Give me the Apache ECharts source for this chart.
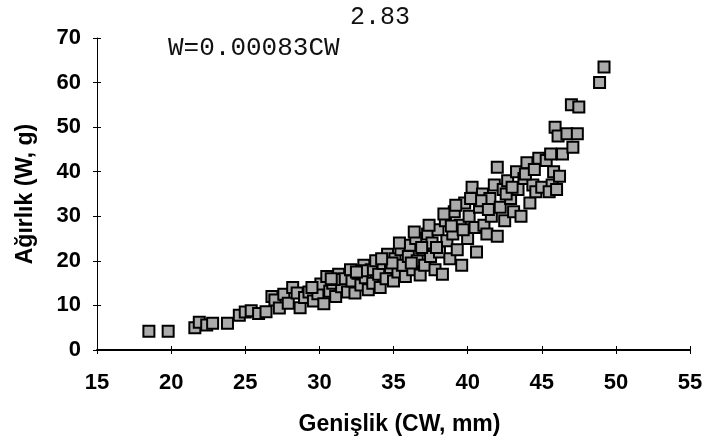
<!DOCTYPE html>
<html>
<head>
<meta charset="utf-8">
<script src="https://cdn.jsdelivr.net/npm/echarts@6/dist/echarts.min.js"></script>
<style>
html,body{margin:0;padding:0;background:#fff;}
#c{width:711px;height:444px;}
</style>
</head>
<body>
<div id="c"></div>
<script>
// Carapace width (CW, mm)
const widthCW = [
  18.5, 19.8, 21.6, 21.9, 22.4, 22.8, 23.8, 24.6, 25.0, 25.4, 25.9, 26.4,
  26.8, 27.0, 27.3, 27.6, 27.9, 28.2, 28.5, 28.7, 29.0, 29.3, 29.6, 29.9,
  30.1, 30.3, 30.5, 30.7, 30.9, 31.1, 31.3, 31.5, 31.7, 31.9, 32.1, 32.2,
  32.4, 32.6, 32.8, 33.0, 33.1, 33.3, 33.5, 33.6, 33.8, 34.0, 34.1, 34.3,
  34.5, 34.6, 34.8, 35.0, 35.1, 35.3, 35.5, 35.6, 35.8, 36.0, 36.1, 36.3,
  36.5, 36.6, 36.8, 37.0, 37.1, 37.3, 37.5, 37.6, 37.8, 38.0, 38.1, 38.3,
  38.5, 38.6, 38.8, 39.0, 39.1, 39.3, 39.5, 39.6, 39.8, 40.0, 40.1, 40.3,
  40.5, 40.6, 40.8, 41.0, 41.1, 41.3, 41.5, 41.6, 41.8, 42.0, 42.0, 42.2,
  42.4, 42.5, 42.7, 42.9, 43.1, 43.3, 43.4, 43.6, 43.8, 44.0, 44.2, 44.4,
  44.6, 44.8, 45.0, 45.3, 45.6, 45.9, 45.7, 45.8, 45.5, 46.1, 46.2, 46.4,
  46.0, 46.7, 47.1, 47.4, 47.0, 47.5, 48.9, 49.2,
  31.0, 32.9, 34.9, 36.9, 38.9, 40.9, 42.6, 43.9,
  35.4, 36.4, 37.4, 38.4, 39.2, 40.2, 29.5, 30.8, 32.5, 34.2,
  36.2, 37.9, 39.7, 41.4, 43.0, 44.5
];
// Weight (W, g)
const weightW = [
  4.2, 4.2, 5.0, 6.2, 5.6, 6.0, 6.0, 7.8, 8.5, 8.8, 8.2, 8.6,
  12.0, 11.2, 9.4, 12.5, 10.5, 14.0, 12.8, 9.5, 11.8, 13.0, 11.0, 12.6,
  14.8, 10.4, 16.5, 13.2, 15.0, 12.0, 17.0, 14.2, 16.0, 13.0, 18.0, 15.5,
  12.8, 17.2, 14.6, 19.0, 16.2, 13.5, 18.0, 15.0, 20.0, 17.0, 14.0, 19.4,
  16.0, 21.5, 18.5, 15.5, 20.5, 17.5, 22.5, 19.0, 16.5, 21.0, 23.5, 18.0,
  25.0, 20.0, 16.8, 22.5, 19.0, 26.0, 21.0, 24.0, 18.0, 27.0, 22.0, 17.0,
  29.0, 24.5, 20.5, 26.0, 31.0, 22.5, 28.0, 19.0, 33.0, 25.0, 30.0, 36.5,
  27.5, 22.0, 32.0, 35.0, 28.0, 26.0, 34.0, 30.0, 37.0, 25.5, 41.0, 32.0,
  36.0, 29.0, 38.0, 34.0, 31.0, 40.0, 36.0, 30.0, 38.5, 42.0, 33.0, 37.0,
  35.5, 43.0, 36.5, 42.5, 44.0, 50.0, 37.0, 40.0, 35.5, 48.0, 39.0, 44.0,
  36.0, 48.5, 45.5, 48.5, 55.0, 54.5, 60.0, 63.5,
  15.8, 17.8, 19.5, 23.0, 27.8, 33.5, 35.0, 39.5,
  24.0, 26.5, 28.0, 30.5, 32.5, 34.0, 14.0, 16.0, 17.5, 20.5,
  19.5, 23.0, 27.0, 31.5, 36.5, 40.5
];
const xTicks = [15, 55, 5];  // min, max, interval
const yTicks = [0, 70, 10];
const eqMain = 'W=0.00083CW';
const eqExp = '2.83';
const xName = 'Genişlik (CW, mm)';
const yName = 'Ağırlık (W, g)';

const points = widthCW.map((x, i) => [x, weightW[i]]);

const chart = echarts.init(document.getElementById('c'), null, {renderer: 'canvas'});
const gridLeft = 97, gridRight = 21, gridTop = 38, gridBottom = 94;
const gridW = 711 - gridLeft - gridRight;
const gridH = 444 - gridTop - gridBottom;
const labelFont = {color: '#000', fontFamily: 'Liberation Sans, Arial, sans-serif', fontWeight: 'bold', fontSize: 22};

chart.setOption({
  animation: false,
  backgroundColor: '#fff',
  grid: {left: gridLeft, right: gridRight, top: gridTop, bottom: gridBottom, containLabel: false},
  xAxis: [{
    type: 'value', min: xTicks[0], max: xTicks[1], interval: xTicks[2],
    name: xName, nameLocation: 'middle', nameGap: 63,
    nameTextStyle: Object.assign({}, labelFont, {fontSize: 23, padding: [0, 0, 0, 12]}),
    axisLine: {show: true, onZero: false, lineStyle: {color: '#000', width: 2}},
    axisTick: {show: true, inside: false, length: 4, lineStyle: {color: '#000', width: 1}},
    axisLabel: Object.assign({margin: 22}, labelFont),
    splitLine: {show: false}
  }, {
    type: 'value', min: xTicks[0], max: xTicks[1], interval: xTicks[2],
    position: 'top', offset: -gridH,
    axisLine: {show: false},
    axisTick: {show: true, inside: false, length: 4, lineStyle: {color: '#000', width: 1}},
    axisLabel: {show: false}, splitLine: {show: false}
  }],
  yAxis: [{
    type: 'value', min: yTicks[0], max: yTicks[1], interval: yTicks[2],
    name: yName, nameLocation: 'middle', nameGap: 60, nameRotate: 90,
    nameTextStyle: Object.assign({}, labelFont, {fontSize: 23}),
    axisLine: {show: true, onZero: false, lineStyle: {color: '#000', width: 1}},
    axisTick: {show: true, inside: false, length: 4, lineStyle: {color: '#000', width: 1}},
    axisLabel: Object.assign({margin: 16}, labelFont),
    splitLine: {show: false}
  }, {
    type: 'value', min: yTicks[0], max: yTicks[1], interval: yTicks[2],
    position: 'right', offset: -gridW,
    axisLine: {show: false},
    axisTick: {show: true, inside: false, length: 4, lineStyle: {color: '#000', width: 1}},
    axisLabel: {show: false}, splitLine: {show: false}
  }],
  graphic: [
    {type: 'text', left: 168, top: 35, style: {text: eqMain, font: '26px "Liberation Mono", "Courier New", monospace', fill: '#111'}},
    {type: 'text', left: 350, top: 5, style: {text: eqExp, font: '25px "Liberation Mono", "Courier New", monospace', fill: '#111'}}
  ],
  series: [{
    type: 'scatter',
    xAxisIndex: 0, yAxisIndex: 0,
    data: points,
    symbol: 'rect',
    symbolSize: 11,
    itemStyle: {color: '#ababab', borderColor: '#000', borderWidth: 2, opacity: 1}
  }]
});
</script>
</body>
</html>
